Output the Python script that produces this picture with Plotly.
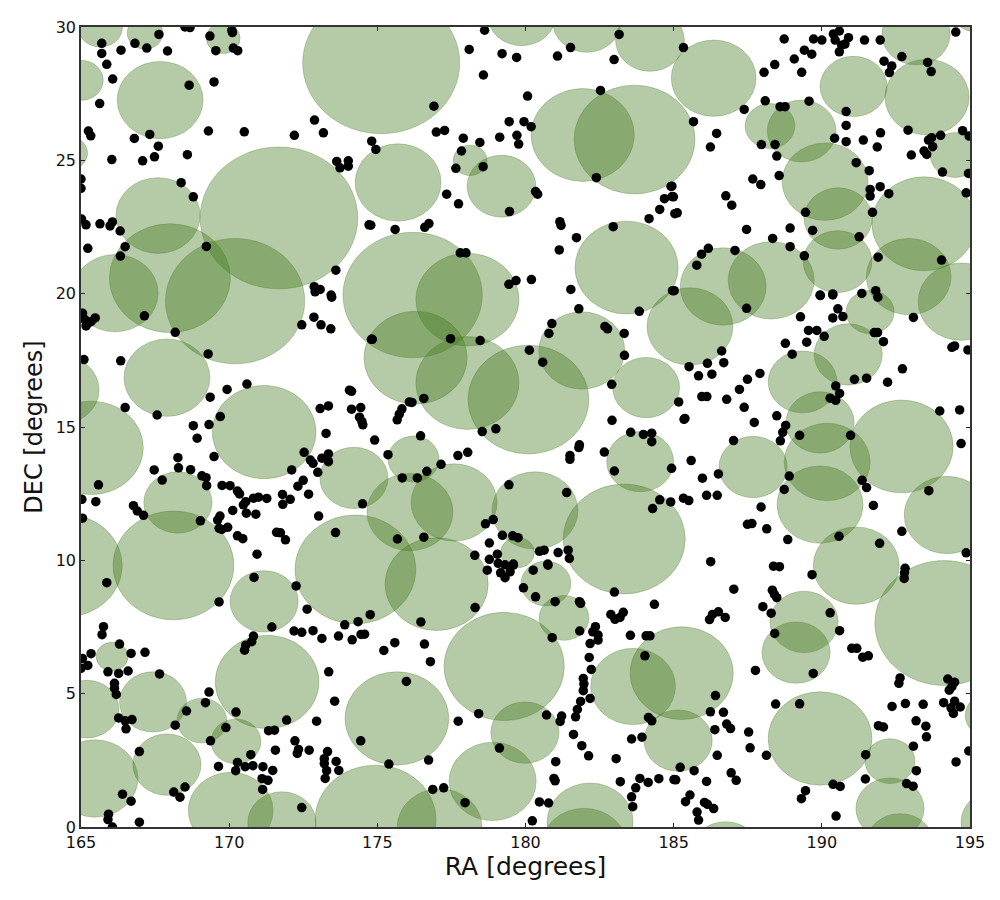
import plotly.graph_objects as go

# (ra, dec, radius) in degrees
circles_north = [
(175.13,28.65,2.65),(171.68,22.84,2.66),(167.67,27.26,1.45),(165.0,28.0,0.75),(165.65,30.0,0.75),
(167.16,29.77,0.6),(169.8,29.58,0.57),(164.6,25.27,0.62),(167.6,22.93,1.42),(168.0,20.58,2.04),
(166.15,20.02,1.45),(170.2,19.72,2.35),(167.9,16.85,1.45),(164.33,16.39,1.28),(165.35,14.22,1.75),
(171.18,14.81,1.75),(176.19,19.95,2.35),(178.04,19.78,1.74),(176.29,17.6,1.74),(178.04,16.65,1.74),
(180.1,16.03,2.04),(181.93,25.95,1.74),(183.68,25.78,2.04),(175.7,24.17,1.45),(179.19,24.03,1.16),
(178.13,25.0,0.57),(179.87,30.45,1.15),(182.07,30.2,1.15),(184.2,29.5,1.16),(186.35,28.08,1.43),
(188.25,26.29,0.84),(189.32,26.1,1.16),(190.11,24.2,1.45),(190.55,22.82,1.15),(190.53,21.2,1.16),
(191.07,27.77,1.13),(193.55,27.37,1.42),(193.18,29.73,1.15),(195.17,30.63,0.8),(194.5,25.2,0.84),
(193.45,22.62,1.76),(192.93,20.64,1.43),(194.7,19.7,1.45),(191.63,19.31,0.81),(190.89,17.72,1.15),
(189.35,16.69,1.16),(189.94,15.17,1.15),(190.18,13.69,1.45),(192.69,14.27,1.74),(187.68,13.5,1.15),
(185.55,18.77,1.45),(186.67,20.27,1.45),(188.29,20.5,1.45),(183.41,20.98,1.74),(181.9,17.87,1.45),
(184.07,16.48,1.13),(183.87,13.7,1.13),
]
circles_south = [
(168.27,12.17,1.15),(168.12,9.81,2.04),(164.46,9.8,1.93),(174.21,13.09,1.15),(174.26,9.66,2.04),
(177.0,9.11,1.74),(176.22,13.8,0.86),(176.1,11.81,1.45),(177.59,12.17,1.45),(180.32,11.87,1.45),
(183.33,10.8,2.06),(189.94,12.09,1.45),(194.23,11.7,1.45),(191.16,9.8,1.45),(179.28,6.02,2.03),
(181.3,7.84,0.84),(180.69,9.13,0.84),(183.63,5.27,1.43),(185.27,5.77,1.74),(185.15,3.24,1.15),
(179.98,3.54,1.15),(178.89,1.71,1.47),(175.66,4.07,1.75),(174.94,0.28,2.04),(177.1,0.0,1.43),
(182.18,0.2,1.45),(181.98,-0.75,1.45),(189.94,3.32,1.75),(189.13,6.54,1.15),(189.4,7.69,1.15),
(194.13,7.65,2.34),(192.3,2.47,0.84),(192.3,0.69,1.15),(192.64,-0.65,1.15),(186.75,-0.95,1.15),
(195.85,0.2,1.15),(195.68,4.19,0.84),(171.18,8.46,1.15),(171.28,5.44,1.75),(166.05,6.39,0.54),
(167.43,4.69,1.13),(165.2,4.42,1.08),(165.47,1.82,1.45),(169.08,3.99,0.84),(170.23,3.21,0.84),
(167.9,2.34,1.15),(170.05,0.62,1.43),(171.78,0.17,1.15),(179.73,10.29,0.57),
]

# (ra, dec) of the catalogue points
dots_nw = [
(165.70,29.39),(165.70,29.01),(165.87,28.60),(166.07,28.05),(165.63,27.13),(166.35,29.13),(166.82,29.39),(167.22,29.21),
(167.63,29.72),(167.92,29.10),(168.51,30.0),(168.68,29.98),(169.35,29.66),(170.09,29.88),(170.11,29.79),(169.55,29.11),
(170.14,29.21),(170.29,29.11),(168.65,27.82),(169.49,27.94),(165.25,26.10),(165.33,25.92),(166.80,25.82),(167.32,25.97),
(169.30,26.10),(170.51,26.07),(172.20,25.94),(172.88,26.51),(173.18,26.03),(174.81,25.72),(174.95,25.41),(167.61,25.53),
(167.48,25.13),(167.08,24.98),(166.04,25.03),(168.59,25.21),(173.63,24.96),(173.74,24.72),(174.02,24.98),(174.02,24.78),
(168.38,24.16),(168.79,23.63),(165.0,24.3),(165.0,23.95),(165.02,22.8),(165.17,22.58),(165.64,22.62),(165.98,22.54),
(166.06,22.69),(166.32,22.35),(165.23,21.7),(166.49,21.76),(166.33,21.41),(169.23,21.77),(174.72,22.58),(173.6,20.88),
(172.87,20.26),(173.07,20.16),(172.9,20.07),(173.44,19.95),
]
dots_n = [
(178.62,29.88),(183.16,29.72),(178.1,29.16),(179.21,29.0),(179.7,28.86),(181.08,28.91),(181.52,29.23),(182.99,28.78),
(178.58,28.2),(176.91,27.03),(180.07,27.41),(182.53,27.62),(179.45,26.45),(179.95,26.45),(180.19,26.26),(176.99,26.06),
(177.27,26.12),(177.9,25.83),(178.46,25.67),(179.13,25.87),(179.71,25.94),(179.77,25.61),(177.84,25.35),(177.65,24.7),
(178.57,24.76),(182.39,24.35),(184.91,24.02),(184.69,23.56),(184.95,23.64),(184.53,23.16),(184.17,22.81),(185.04,23.0),
(177.34,23.73),(177.74,23.37),(180.34,23.83),(180.41,23.73),(179.46,23.08),(182.96,22.51),(181.16,22.7),(181.2,22.56),
(181.72,22.1),(181.14,21.64),(174.78,22.57),(175.6,22.41),(176.6,22.49),(176.74,22.63),(177.8,21.53),(177.99,21.53),
(179.44,20.35),(179.68,20.49),(180.2,20.53),(181.53,20.16),(184.96,20.11),
]
dots_ne = [
(185.33,29.23),(188.73,29.55),(189.72,29.55),(190.0,29.51),(190.39,29.74),(190.59,29.85),(190.45,29.51),(190.67,29.32),
(190.9,29.6),(190.59,29.07),(190.78,29.36),(191.44,29.51),(191.97,29.51),(194.52,29.81),(189.41,29.13),(189.66,28.98),
(189.07,28.8),(188.41,28.59),(188.05,28.3),(189.32,28.3),(192.7,28.89),(192.1,28.72),(192.36,28.54),(192.28,28.29),
(193.57,28.67),(193.69,28.33),(187.38,26.91),(188.09,27.23),(188.59,27.01),(188.76,27.01),(189.57,27.22),(190.82,26.83),
(190.82,26.31),(185.67,26.45),(186.45,26.01),(186.24,25.5),(187.96,25.59),(188.42,25.59),(188.48,25.16),(190.43,25.83),
(190.82,25.7),(191.4,25.76),(191.98,26.03),(191.87,25.5),(192.91,26.13),(193.71,25.85),(194.01,25.94),(194.75,26.11),
(194.97,25.91),(193.6,25.76),(193.74,25.51),(193.45,25.35),(193.54,25.22),(193.02,25.2),(191.16,24.91),(191.6,24.61),
(194.07,24.56),(194.95,24.51),(188.56,24.43),(187.67,24.3),(187.94,24.09),(184.94,24.03),(184.99,23.63),(185.12,23.03),
(186.76,23.67),(186.96,23.32),(191.63,23.91),(191.63,23.66),(191.97,24.01),(192.26,23.75),(194.87,23.78),(189.45,23.05),
(191.71,23.05),(187.46,22.41),(188.93,22.46),(189.69,22.37),(188.34,22.07),(188.93,21.76),(191.26,22.13),(187.07,21.62),
(186.17,21.7),(185.94,21.48),(185.78,21.07),(189.41,21.42),(191.9,21.37),(194.04,21.26),(185.02,20.11),(189.94,19.95),
(190.37,19.99),(191.35,20.01),(191.82,20.11),
]
dots_w = [
(165.05,19.27),(165.48,19.09),(165.14,19.02),(165.23,18.89),(165.17,18.79),(165.34,18.95),(167.14,19.17),(168.18,18.55),
(169.29,17.74),(165.1,17.53),(166.34,17.48),(173.46,19.87),(172.86,19.12),(173.1,18.83),(173.43,18.68),(172.45,18.83),
(174.8,18.29),(169.93,16.41),(170.6,16.61),(169.36,16.12),(166.49,15.73),(167.57,15.45),(169.7,15.39),(169.32,15.09),
(168.79,15.05),(168.92,14.58),(174.06,16.38),(174.13,16.34),(173.07,15.69),(173.35,15.79),(174.13,15.67),(174.44,15.73),
(174.4,15.37),(174.48,15.2),(174.51,15.08),(173.27,14.76),(174.91,14.51),(169.49,13.89),(168.27,13.85),(168.29,13.47),
(167.47,13.39),(168.7,13.4),(167.74,13.01),(169.08,13.17),(169.22,13.1),(169.24,12.8),(169.76,12.81),(170.03,12.8),
(170.28,12.6),(170.35,12.49),(170.56,12.2),(170.48,12.08),(170.82,12.33),(170.99,12.37),(171.27,12.32),(171.8,12.47),
(172.06,12.29),(171.81,12.1),(172.32,12.78),(172.5,13.0),(172.68,12.48),(172.53,14.05),(172.74,13.76),(172.83,13.64),
(173.13,13.83),(173.35,13.99),(173.35,13.7),(172.99,13.3),(172.11,13.39),(174.5,12.12),(173.02,11.66),(173.59,11.04),
(170.12,11.87),(170.58,11.77),(170.9,11.73),(169.69,11.66),(169.61,11.51),(169.66,11.2),(169.75,11.16),(169.95,11.24),
(169.03,11.48),(166.77,12.05),(166.9,11.85),(167.11,11.69),(170.28,10.92),(170.46,10.81),(171.6,11.05),(171.73,11.03),
(171.9,10.77),(170.94,10.23),(165.59,12.83),(165.03,12.29),(165.5,12.2),(165.05,11.58),
]
dots_c = [
(181.8,19.43),(183.84,19.34),(180.89,18.88),(180.79,18.51),(182.68,18.77),(182.77,18.68),(183.33,18.51),(183.34,17.69),
(182.91,16.6),(182.92,15.25),(174.83,18.29),(177.47,18.31),(178.47,18.24),(180.13,17.88),(180.58,17.43),(176.57,16.07),
(176.08,15.94),(176.17,15.92),(175.83,15.68),(175.74,15.48),(175.67,15.27),(178.54,14.83),(179.0,14.93),(176.46,14.67),
(175.36,13.96),(177.72,13.93),(178.05,14.05),(177.15,13.6),(176.67,13.34),(175.84,13.09),(176.35,13.09),(181.82,14.33),
(181.8,14.23),(181.5,13.93),(181.5,13.79),(182.66,14.06),(183.55,14.8),(183.98,14.72),(184.26,14.77),(184.26,14.45),
(183.0,13.35),(184.93,13.45),(179.44,12.83),(181.39,12.54),(184.53,12.27),(184.9,12.19),(184.29,11.94),(178.91,11.53),
(178.65,11.37),(179.22,10.94),(179.57,10.92),(179.75,10.85),(176.57,10.87),(175.68,10.8),(178.78,10.65),(178.29,10.19),
(178.78,10.04),(179.05,10.23),(180.47,10.34),(180.63,10.38),(181.1,10.29),(181.44,10.38),(181.48,10.07),(179.08,9.89),
(179.31,9.83),(179.59,9.86),(180.75,9.86),
]
dots_e = [
(187.46,19.45),(189.28,19.13),(189.95,19.93),(190.37,19.95),(191.89,19.87),(190.54,19.43),(190.37,19.09),(190.71,19.14),
(193.09,19.11),(189.55,18.62),(189.83,18.62),(190.08,18.4),(188.77,18.14),(189.49,18.18),(189.0,17.73),(191.77,18.54),
(191.88,18.54),(192.08,18.2),(194.39,17.99),(194.48,18.04),(194.93,17.89),(186.62,17.85),(186.14,17.39),(186.69,17.41),
(185.52,17.26),(185.84,16.92),(186.29,16.98),(187.91,17.01),(187.49,16.79),(187.22,16.41),(192.72,17.18),(191.1,16.79),
(191.51,16.83),(192.22,16.68),(190.47,16.54),(190.6,16.26),(190.28,16.08),(190.47,16.0),(185.95,16.14),(186.12,16.14),
(186.79,16.04),(185.17,15.94),(187.38,15.74),(185.35,15.29),(185.38,15.32),(187.72,15.17),(188.48,15.42),(188.78,15.06),
(188.68,14.8),(188.6,14.48),(189.25,14.69),(190.97,14.69),(193.98,15.6),(194.65,15.64),(194.7,14.38),(187.02,14.49),
(185.59,13.74),(186.51,13.24),(185.97,13.08),(188.9,13.16),(191.36,13.0),(191.51,12.73),(188.73,12.66),(193.61,12.61),
(185.33,12.33),(185.51,12.24),(186.11,12.44),(186.47,12.44),(187.95,12.0),(191.74,12.06),(187.49,11.35),(187.64,11.38),
(188.14,11.18),(188.85,10.78),(190.58,10.9),(191.95,10.64),(192.7,11.09),(194.87,10.28),(186.25,9.95),
]
dots_sw = [
(165.87,9.16),(170.84,9.36),(172.26,9.04),(169.66,8.44),(172.63,8.17),(174.76,7.96),(173.9,7.58),(174.35,7.7),
(171.44,7.5),(172.19,7.35),(172.45,7.3),(172.83,7.36),(173.13,7.07),(173.69,7.16),(174.15,7.02),(174.45,7.22),
(174.57,7.23),(165.76,7.51),(165.71,7.21),(170.82,7.16),(170.76,6.95),(170.56,6.82),(170.52,6.63),(166.3,6.86),
(166.69,6.51),(167.16,6.55),(165.34,6.5),(165.05,6.32),(165.23,6.06),(165.0,5.95),(165.91,5.82),(166.27,5.76),
(166.59,5.85),(167.65,5.74),(173.36,5.82),(166.13,5.39),(166.13,5.2),(166.19,4.97),(169.32,5.06),(169.2,4.66),
(173.56,4.72),(168.56,4.35),(170.23,4.31),(166.27,4.09),(166.49,3.98),(166.72,4.03),(166.52,3.68),(168.18,3.82),
(169.89,3.73),(171.94,4.01),(172.95,3.97),(171.33,3.61),(171.53,3.63),(169.37,3.23),(172.22,3.23),(174.44,3.23),
(171.56,2.88),(172.34,2.91),(172.3,2.76),(172.7,2.88),(173.32,2.83),(173.21,2.56),(173.21,2.38),(173.61,2.46),
(173.7,2.12),(173.29,2.11),(173.24,1.82),(166.97,2.83),(170.73,2.71),(170.28,2.42),(169.64,2.27),(170.22,2.11),
(170.54,2.26),(170.8,2.3),(171.14,2.26),(171.47,2.12),(171.11,1.81),(171.31,1.75),(171.13,1.41),(168.51,1.5),
(168.13,1.31),(168.34,1.12),(166.4,1.23),(166.69,0.97),(172.45,0.73),(165.93,0.48),(165.91,0.28),(166.97,0.18),
(166.06,0.0),
]
dots_s = [
(178.3,8.23),(176.47,7.69),(178.71,9.63),(179.16,9.53),(179.31,9.35),(179.48,9.57),(179.59,9.82),(180.26,9.63),
(180.76,9.82),(179.93,8.97),(180.34,8.63),(181.0,8.45),(181.82,8.45),(181.86,8.39),(183.0,8.81),(184.35,8.35),
(182.88,7.97),(183.3,8.05),(183.02,7.79),(183.19,7.86),(181.83,7.35),(180.9,7.1),(182.36,7.51),(182.27,7.32),
(182.45,7.2),(182.45,7.01),(182.18,6.88),(183.54,7.19),(184.07,7.17),(184.2,7.17),(184.03,6.42),(182.15,6.36),
(182.22,5.91),(181.95,5.57),(181.97,5.36),(181.95,5.11),(182.18,4.82),(181.86,4.71),(181.75,4.41),(181.69,4.13),
(175.59,6.91),(175.22,6.62),(176.59,6.86),(176.79,6.2),(175.98,5.46),(177.73,3.97),(178.42,4.25),(180.71,4.2),
(181.22,4.16),(181.17,3.96),(184.15,4.11),(184.26,3.98),(181.62,3.47),(181.9,3.05),(182.13,2.67),(183.58,3.3),
(183.93,3.37),(183.06,2.56),(181.02,2.45),(179.12,2.96),(176.73,2.51),(175.39,2.36),(180.96,1.82),(181.0,1.73),
(183.2,1.7),(183.86,1.82),(184.14,1.67),(184.5,1.81),(185.01,1.78),(183.72,1.47),(183.58,1.13),(183.62,0.76),
(176.87,1.41),(177.24,1.47),(177.96,0.91),(180.47,0.94),(180.78,0.9),(180.23,0.23),
]
dots_se = [
(188.37,9.78),(188.57,9.76),(189.67,9.46),(192.81,9.7),(192.79,9.53),(192.78,9.32),(187.03,8.92),(188.33,8.88),
(188.4,8.72),(188.48,8.6),(188.01,8.26),(188.29,8.02),(186.51,8.07),(186.31,7.97),(186.21,7.78),(186.74,7.86),
(190.28,8.03),(190.6,7.36),(188.41,7.26),(191.01,6.7),(191.18,6.7),(191.38,6.37),(191.57,6.42),(187.76,5.87),
(189.71,5.76),(192.64,5.59),(192.6,5.39),(194.25,5.55),(194.48,5.43),(194.39,5.26),(194.3,5.13),(186.41,4.93),
(188.44,4.61),(189.25,4.62),(186.24,4.32),(186.68,4.3),(192.37,4.52),(192.82,4.63),(193.42,4.6),(194.11,4.66),
(194.48,4.72),(194.67,4.5),(194.36,4.47),(194.44,4.26),(186.79,3.86),(186.92,3.69),(186.39,3.65),(187.53,3.56),
(187.58,2.97),(188.13,2.69),(186.47,2.69),(191.91,3.8),(192.08,3.75),(193.18,3.98),(193.51,3.78),(193.53,3.38),
(193.09,3.03),(194.96,2.85),(194.53,2.44),(191.48,2.71),(193.19,2.11),(191.47,1.8),(192.86,1.63),(193.08,1.53),
(190.38,1.6),(190.62,1.52),(189.45,1.36),(189.31,1.06),(190.48,0.41),(185.22,2.24),(185.69,2.11),(185.07,1.77),
(186.11,1.71),(186.94,2.03),(187.11,1.75),(185.55,1.2),(185.4,0.95),(186.04,0.92),(186.14,0.85),(186.35,0.69),
(185.79,0.56),(185.84,0.26),
]

x_ticks = [165, 170, 175, 180, 185, 190, 195]
y_ticks = [0, 5, 10, 15, 20, 25, 30]

circles = circles_north + circles_south
dots = dots_nw + dots_n + dots_ne + dots_w + dots_c + dots_e + dots_sw + dots_s + dots_se

FILL = "rgba(70,122,32,0.4)"
shapes = [
    dict(type="circle", xref="x", yref="y", x0=ra - r, x1=ra + r, y0=dec - r, y1=dec + r,
         fillcolor=FILL, line=dict(color="rgba(70,122,32,0.3)", width=1), layer="below")
    for ra, dec, r in circles
]

fig = go.Figure(go.Scatter(
    x=[d[0] for d in dots], y=[d[1] for d in dots], mode="markers",
    marker=dict(color="black", size=9.5, line=dict(width=0)), hoverinfo="skip",
))
axis = dict(ticks="inside", ticklen=4, tickwidth=1, tickcolor="#222", showline=True,
            mirror="allticks", linecolor="#333", linewidth=1.5, showgrid=False, zeroline=False,
            tickfont=dict(family="DejaVu Sans", size=16, color="#111"))
fig.update_layout(
    width=1000, height=900, autosize=False, showlegend=False,
    margin=dict(l=81, r=30, t=27, b=73),
    plot_bgcolor="white", paper_bgcolor="white", shapes=shapes,
    xaxis=dict(axis, range=[165, 195], tickvals=x_ticks, ticktext=[str(v) for v in x_ticks],
               title=dict(text="RA [degrees]", font=dict(family="DejaVu Sans", size=25, color="#111"), standoff=2)),
    yaxis=dict(axis, range=[0, 30], tickvals=y_ticks, ticktext=[str(v) for v in y_ticks],
               title=dict(text="DEC [degrees]", font=dict(family="DejaVu Sans", size=24, color="#111"), standoff=6)),
)
fig.write_html("out.html", post_script="document.body.style.margin='0';", config={"displayModeBar": False})
